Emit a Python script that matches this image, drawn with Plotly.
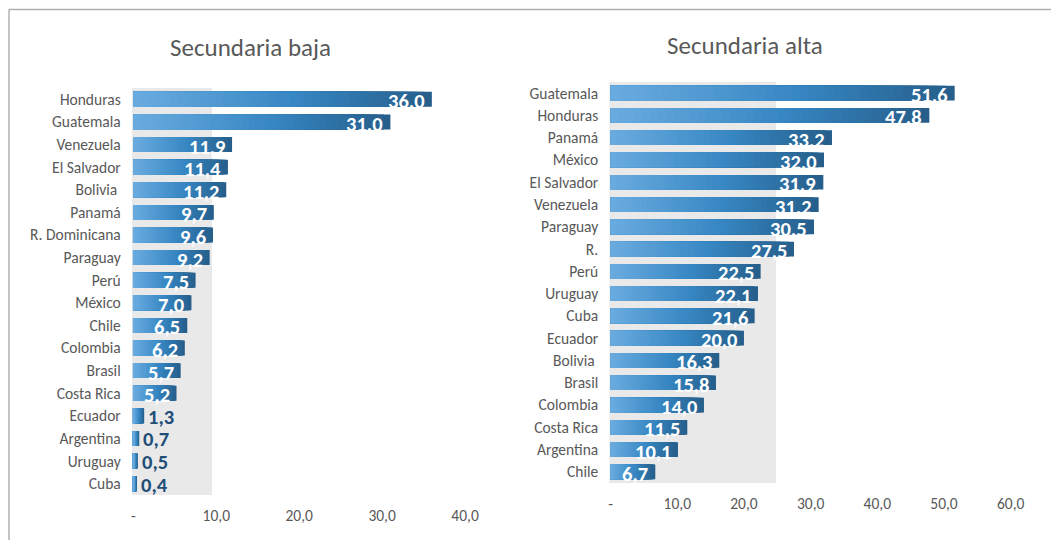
import plotly.graph_objects as go

# ---------------- data ----------------
countries_baja = ["Honduras", "Guatemala", "Venezuela", "El Salvador", "Bolivia\u00a0", "Panamá",
                  "R. Dominicana", "Paraguay", "Perú", "México", "Chile", "Colombia", "Brasil",
                  "Costa Rica", "Ecuador", "Argentina", "Uruguay", "Cuba"]
values_baja = [36.0, 31.0, 11.9, 11.4, 11.2, 9.7, 9.6, 9.2, 7.5, 7.0, 6.5, 6.2, 5.7, 5.2, 1.3, 0.7, 0.5, 0.4]
labels_baja = ["36.0", "31.0", "11,9", "11,4", "11,2", "9,7", "9,6", "9,2", "7,5", "7,0", "6,5",
               "6,2", "5,7", "5,2", "1,3", "0,7", "0,5", "0,4"]

countries_alta = ["Guatemala", "Honduras", "Panamá", "México", "El Salvador", "Venezuela", "Paraguay",
                  "R.", "Perú", "Uruguay", "Cuba", "Ecuador", "Bolivia\u00a0", "Brasil", "Colombia",
                  "Costa Rica", "Argentina", "Chile"]
values_alta = [51.6, 47.8, 33.2, 32.0, 31.9, 31.2, 30.5, 27.5, 22.5, 22.1, 21.6, 20.0, 16.3, 15.8,
               14.0, 11.5, 10.1, 6.7]
labels_alta = ["51.6", "47.8", "33.2", "32.0", "31.9", "31.2", "30.5", "27,5", "22,5", "22,1", "21,6",
               "20,0", "16,3", "15,8", "14,0", "11,5", "10,1", "6,7"]

tickvals_baja = [0, 10, 20, 30, 40]
ticktext_baja = ["-", "10,0", "20,0", "30,0", "40,0"]
tickvals_alta = [0, 10, 20, 30, 40, 50, 60]
ticktext_alta = ["-", "10,0", "20,0", "30,0", "40,0", "50,0", "60,0"]

titles = ["Secundaria baja", "Secundaria alta"]

# ---------------- style ----------------
OFF = 8                      # browser body margin
W, H = 1063 - 2 * OFF, 548 - 2 * OFF
FONT = "Carlito, Lato, 'Open Sans', sans-serif"
TXT = "#595959"
DARK_LABEL = "#1F4E79"
GRAY_BAND = "#E9E9E9"
STOPS = [(0.0, (106, 172, 224)), (0.55, (54, 134, 194)), (1.0, (38, 94, 138))]
N_STEPS = 40


def grad(t):
    for (t0, c0), (t1, c1) in zip(STOPS[:-1], STOPS[1:]):
        if t <= t1:
            f = (t - t0) / (t1 - t0)
            return "rgb(%d,%d,%d)" % tuple(round(a + (b - a) * f) for a, b in zip(c0, c1))
    return "rgb(%d,%d,%d)" % STOPS[-1][1]


def px_x(p):
    return (p - OFF) / W


def px_y(p):
    return 1 - (p - OFF) / H


# panel geometry (pixels in the screenshot)
panels = [
    dict(zero=133.0, scale=8.33, rng=[-0.2, 45], top=88, bottom=495, band=9.48,
         countries=countries_baja, values=values_baja, labels=labels_baja,
         tv=tickvals_baja, tt=ticktext_baja, title_x=251, title_y=47, inside_min=2.0),
    dict(zero=612.5, scale=6.70, rng=[-0.2, 61.5], top=82, bottom=483, band=24.8,
         countries=countries_alta, values=values_alta, labels=labels_alta,
         tv=tickvals_alta, tt=ticktext_alta, title_x=748, title_y=45, inside_min=2.0),
]

fig = go.Figure()
shapes = []
annotations = []

for k, p in enumerate(panels):
    xa = "x" if k == 0 else "x2"
    ya = "y" if k == 0 else "y2"
    x0px = p["zero"] + p["rng"][0] * p["scale"]
    x1px = p["zero"] + p["rng"][1] * p["scale"]
    axis_x = dict(domain=[px_x(x0px), px_x(x1px)], range=p["rng"], showgrid=False, zeroline=False,
                  showline=False, tickvals=p["tv"], ticktext=p["tt"], ticks="",
                  tickfont=dict(family=FONT, size=15.5, color=TXT), ticklabelstandoff=9,
                  anchor=ya, fixedrange=True)
    n = len(p["countries"])
    axis_y = dict(domain=[px_y(p["bottom"]), px_y(p["top"])], range=[n - 0.5, -0.5],
                  tickvals=list(range(n)), ticktext=p["countries"], showgrid=False, zeroline=False,
                  showline=False, ticks="", tickfont=dict(family=FONT, size=15.5, color=TXT),
                  ticklabelstandoff=10, anchor=xa, fixedrange=True)
    if k == 0:
        fig.update_layout(xaxis=axis_x, yaxis=axis_y)
    else:
        fig.update_layout(xaxis2=axis_x, yaxis2=axis_y)

    # gray band behind bars
    shapes.append(dict(type="rect", xref=xa, yref=ya + " domain", x0=p["rng"][0], x1=p["band"],
                       y0=0, y1=1, fillcolor=GRAY_BAND, line=dict(width=0), layer="below"))

    # gradient bars: overlaid bars from full length (dark) to short (light)
    for s in range(N_STEPS):
        frac = (N_STEPS - s) / N_STEPS
        fig.add_trace(go.Bar(
            x=[v * frac for v in p["values"]], y=list(range(n)), orientation="h",
            marker=dict(color=grad(frac - 0.5 / N_STEPS), line=dict(width=0)),
            xaxis=xa, yaxis=ya, showlegend=False, hoverinfo="skip", width=0.66))

    # data labels
    for i, (v, lab) in enumerate(zip(p["values"], p["labels"])):
        if v >= p["inside_min"]:
            annotations.append(dict(x=v, y=i, xref=xa, yref=ya, text="<b>%s</b>" % lab,
                                    showarrow=False, xanchor="right", yanchor="middle",
                                    xshift=-6, yshift=-2, borderpad=0,
                                    font=dict(family=FONT, size=20.5, color="white")))
        else:
            annotations.append(dict(x=v, y=i, xref=xa, yref=ya, text="<b>%s</b>" % lab,
                                    showarrow=False, xanchor="left", yanchor="middle",
                                    xshift=3, yshift=-1, borderpad=0,
                                    font=dict(family=FONT, size=20.5, color=DARK_LABEL)))

    annotations.append(dict(x=px_x(p["title_x"]), y=px_y(p["title_y"]), xref="paper", yref="paper",
                            text=titles[k], showarrow=False, xanchor="center", yanchor="middle",
                            font=dict(family=FONT, size=25, color=TXT)))

# outer frame (top and left borders)
shapes.append(dict(type="line", xref="paper", yref="paper", x0=px_x(8), x1=1.0,
                   y0=px_y(9.5), y1=px_y(9.5), line=dict(color="#B0B0B0", width=1.5)))
shapes.append(dict(type="line", xref="paper", yref="paper", x0=px_x(8), x1=px_x(8),
                   y0=0, y1=px_y(9.5), line=dict(color="#B0B0B0", width=1.5)))

fig.update_layout(width=W, height=H, margin=dict(l=0, r=0, t=0, b=0), barmode="overlay",
                  plot_bgcolor="white", paper_bgcolor="white", shapes=shapes,
                  annotations=annotations, showlegend=False)

fig.write_html("out.html", config={"displayModeBar": False})
